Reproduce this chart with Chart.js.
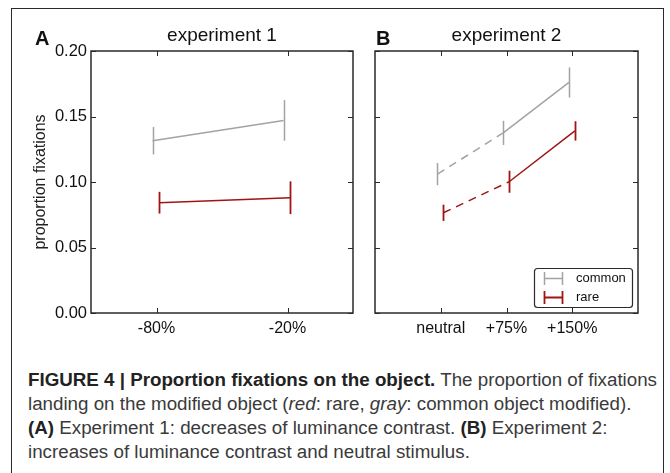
<!DOCTYPE html>
<html>
<head>
<meta charset="utf-8">
<script src="https://cdn.jsdelivr.net/npm/chart.js@4.4.1/dist/chart.umd.min.js"></script>
<style>
  html, body { margin: 0; padding: 0; background: #fff; }
  body { width: 670px; height: 473px; position: relative; overflow: hidden; font-family: "Liberation Sans", Arial, sans-serif; }
  #frame { position: absolute; left: 11px; top: 8px; width: 653px; height: 480px; border: 1.5px solid #2a2a2a; box-sizing: border-box; }
  canvas { position: absolute; top: 0; }
  #cA { left: 0; }
  #cB { left: 360px; }
  .cap { position: absolute; left: 28px; white-space: nowrap; font-size: 18px; line-height: 24px; color: #3a3a3a; transform-origin: 0 50%; }
  .cap b { color: #222; }
</style>
</head>
<body>
<div id="frame"></div>
<canvas id="cA" width="360" height="340"></canvas>
<canvas id="cB" width="310" height="340"></canvas>

<div class="cap" style="top:368px"><span><b>FIGURE 4 | Proportion fixations on the object.</b> The proportion of fixations</span></div>
<div class="cap" style="top:392px"><span>landing on the modified object (<i>red</i>: rare, <i>gray</i>: common object modified).</span></div>
<div class="cap" style="top:416px"><span><b>(A)</b> Experiment 1: decreases of luminance contrast. <b>(B)</b> Experiment 2:</span></div>
<div class="cap" style="top:440px"><span>increases of luminance contrast and neutral stimulus.</span></div>

<script>
// ---------------- data ----------------
const catsA = ['-80%', '-20%'];
const commonA = [0.1315, 0.147];
const commonAErr = [0.0105, 0.0155];
const rareA = [0.0842, 0.088];
const rareAErr = [0.0083, 0.0125];

const catsB = ['neutral', '+75%', '+150%'];
const commonB = [0.106, 0.1375, 0.176];
const commonBErr = [0.0085, 0.0092, 0.0115];
const rareB = [0.0765, 0.1002, 0.139];
const rareBErr = [0.0062, 0.0084, 0.0074];

const yTicks = [0, 0.05, 0.10, 0.15, 0.20];

// ---------------- style ----------------
const GRAY = '#a3a3a3';
const RED = '#a01414';
const INK = '#2a2a2a';
const FONT = '"Liberation Sans", Arial, sans-serif';

// draws box, inward ticks, error bars, titles and legend
const panelDeco = {
  id: 'panelDeco',
  afterDatasetsDraw(chart, args, o) {
    const ctx = chart.ctx, ca = chart.chartArea;
    const xs = chart.scales.x, ys = chart.scales.y;
    ctx.save();

    // error bars
    chart.data.datasets.forEach((ds, di) => {
      const meta = chart.getDatasetMeta(di);
      ctx.strokeStyle = ds.borderColor;
      ctx.lineWidth = ds.errWidth;
      meta.data.forEach((pt, i) => {
        const v = ds.data[i].y, e = ds.err[i];
        const x = Math.round(pt.x) + 0.5;
        ctx.beginPath();
        ctx.moveTo(x, ys.getPixelForValue(v + e));
        ctx.lineTo(x, ys.getPixelForValue(v - e));
        ctx.stroke();
      });
    });

    // axes box
    ctx.strokeStyle = INK;
    ctx.lineWidth = 1.5;
    ctx.strokeRect(ca.left, ca.top, ca.right - ca.left, ca.bottom - ca.top);

    // inward ticks
    ctx.lineWidth = 1;
    const tl = 5;
    ys.ticks.forEach(t => {
      const y = Math.round(ys.getPixelForValue(t.value)) + 0.5;
      ctx.beginPath();
      ctx.moveTo(ca.left, y); ctx.lineTo(ca.left + tl, y);
      ctx.moveTo(ca.right, y); ctx.lineTo(ca.right - tl, y);
      ctx.stroke();
    });
    xs.ticks.forEach(t => {
      const x = Math.round(xs.getPixelForValue(t.value)) + 0.5;
      ctx.beginPath();
      ctx.moveTo(x, ca.bottom); ctx.lineTo(x, ca.bottom - tl);
      ctx.moveTo(x, ca.top); ctx.lineTo(x, ca.top + tl);
      ctx.stroke();
    });

    // panel letter + title
    ctx.fillStyle = '#111';
    ctx.textBaseline = 'alphabetic';
    ctx.textAlign = 'left';
    ctx.font = 'bold 20px ' + FONT;
    ctx.fillText(o.letter, o.letterX, 45);
    ctx.textAlign = 'center';
    ctx.font = '19px ' + FONT;
    ctx.fillText(o.title, (ca.left + ca.right) / 2, 41);

    // y title
    if (o.yTitle) {
      ctx.save();
      ctx.translate(45, (ca.top + ca.bottom) / 2);
      ctx.rotate(-Math.PI / 2);
      ctx.font = '16px ' + FONT;
      ctx.fillStyle = '#222';
      ctx.fillText(o.yTitle, 0, 0);
      ctx.restore();
    }

    // legend
    if (o.legend) {
      const w = 98, h = 39;
      const bx = ca.right - 6 - w, by = ca.bottom - 6 - h;
      ctx.strokeStyle = INK;
      ctx.lineWidth = 1.2;
      ctx.beginPath();
      ctx.roundRect(bx + 0.5, by + 0.5, w, h, 3);
      ctx.stroke();
      ctx.font = '13px ' + FONT;
      ctx.textAlign = 'left';
      ctx.textBaseline = 'middle';
      chart.data.datasets.forEach((ds, i) => {
        const cy = Math.round(by + 10 + i * 19) + 0.5;
        ctx.strokeStyle = ds.borderColor;
        ctx.lineWidth = ds.errWidth;
        ctx.beginPath();
        ctx.moveTo(bx + 10, cy); ctx.lineTo(bx + 29, cy);
        ctx.moveTo(bx + 10.5, cy - 6.5); ctx.lineTo(bx + 10.5, cy + 6.5);
        ctx.moveTo(bx + 28.5, cy - 6.5); ctx.lineTo(bx + 28.5, cy + 6.5);
        ctx.stroke();
        ctx.fillStyle = '#111';
        ctx.fillText(ds.label, bx + 42, cy);
      });
    }
    ctx.restore();
  }
};

function pts(vals, shift) {
  return vals.map((v, i) => ({ x: i + shift, y: v }));
}

function makePanel(id, cats, xMin, xMax, datasets, yw, padRight, deco, showY) {
  return new Chart(document.getElementById(id), {
    type: 'line',
    data: { datasets: datasets },
    options: {
      responsive: false,
      animation: false,
      devicePixelRatio: 1,
      layout: { padding: { top: 51, right: padRight, left: 0, bottom: 0 } },
      elements: { point: { radius: 0 }, line: { tension: 0 } },
      plugins: { legend: { display: false }, tooltip: { enabled: false }, panelDeco: deco },
      scales: {
        x: {
          type: 'linear', min: xMin, max: xMax,
          grid: { display: false, drawTicks: false }, border: { display: false },
          afterBuildTicks: s => { s.ticks = cats.map((c, i) => ({ value: i })); },
          afterFit: s => { s.height = 27; },
          ticks: { autoSkip: false, maxRotation: 0, padding: 6, color: '#111',
                   font: { family: FONT, size: 16 }, callback: v => cats[v] }
        },
        y: {
          min: 0, max: 0.2,
          grid: { display: false, drawTicks: false }, border: { display: false },
          afterBuildTicks: s => { s.ticks = yTicks.map(v => ({ value: v })); },
          afterFit: s => { s.width = yw; },
          ticks: { display: showY, padding: 4, color: '#111',
                   font: { family: FONT, size: 16.5 }, callback: v => v.toFixed(2) }
        }
      }
    },
    plugins: [panelDeco]
  });
}

const dashFirst = { borderDash: c => c.p0DataIndex === 0 ? [8, 6] : undefined };

makePanel('cA', catsA, -0.5, 1.5, [
  { label: 'common', data: pts(commonA, -0.03), err: commonAErr, borderColor: GRAY, borderWidth: 1.5, errWidth: 1.5 },
  { label: 'rare', data: pts(rareA, 0.02), err: rareAErr, borderColor: RED, borderWidth: 1.5, errWidth: 1.8 }
], 91, 7, { letter: 'A', letterX: 35, title: 'experiment 1', yTitle: 'proportion fixations' }, true);

makePanel('cB', catsB, -1, 3, [
  { label: 'common', data: pts(commonB, -0.05), err: commonBErr, borderColor: GRAY, borderWidth: 1.5, errWidth: 1.5, segment: dashFirst },
  { label: 'rare', data: pts(rareB, 0.04), err: rareBErr, borderColor: RED, borderWidth: 1.5, errWidth: 1.8, segment: dashFirst }
], 15, 32, { letter: 'B', letterX: 16, title: 'experiment 2', legend: true }, false);

// condensed caption face: one horizontal squeeze for every line, set by the first line
const caps = document.querySelectorAll('.cap');
const squeeze = 629 / caps[0].firstElementChild.getBoundingClientRect().width;
caps.forEach(d => { d.style.transform = 'scaleX(' + squeeze + ')'; });
</script>
</body>
</html>
